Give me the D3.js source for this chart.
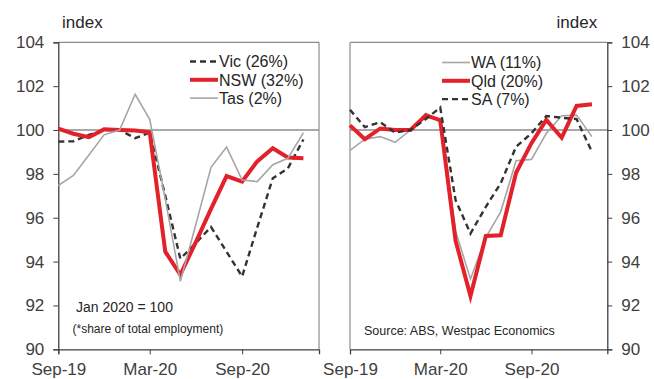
<!DOCTYPE html>
<html lang="en">
<head>
    <meta charset="UTF-8">
    <title>State employment index</title>
    <script src="https://d3js.org/d3.v7.min.js"></script>
    <style>
        body {
            margin: 0;
            background: #fff;
            font-family: "Liberation Sans", Arial, sans-serif;
        }
        .axis text {
            font-size: 17px;
            fill: #404040;
            font-family: "Liberation Sans", Arial, sans-serif;
        }
        .axis path, .axis line {
            stroke: #404040;
        }
    </style>
</head>
<body>
    <div id="chart"></div>
    <script>
        // Monthly observations, Sep-19 to Jan-21 (Jan 2020 = 100)
        const months = ["2019-09", "2019-10", "2019-11", "2019-12", "2020-01", "2020-02", "2020-03",
            "2020-04", "2020-05", "2020-06", "2020-07", "2020-08", "2020-09", "2020-10",
            "2020-11", "2020-12", "2021-01"];

        const vic = [99.47, 99.49, 99.78, 100.0, 100.0, 99.63, 99.88, 97.0, 94.13, 94.85, 95.58, 94.45, 93.32, 95.55, 97.8, 98.25, 99.57];
        const nsw = [100.06, 99.83, 99.67, 100.03, 100.0, 99.98, 99.9, 94.45, 93.4, 94.9, 96.4, 97.9, 97.65, 98.57, 99.17, 98.75, 98.71];
        const tas = [97.47, 97.93, 98.86, 99.78, 100.0, 101.63, 100.49, 96.85, 93.1, 95.7, 98.3, 99.22, 97.72, 97.65, 98.42, 98.71, 99.88];

        const wa = [99.07, 99.58, 99.7, 99.44, 100.0, 100.76, 100.35, 95.4, 93.2, 95.1, 96.27, 98.6, 98.66, 99.85, 100.65, 100.68, 99.7];
        const qld = [100.21, 99.58, 100.07, 100.0, 100.0, 100.67, 100.45, 94.95, 92.43, 95.17, 95.2, 98.05, 99.4, 100.46, 99.65, 101.1, 101.17];
        const sa = [100.92, 100.13, 100.36, 99.88, 100.0, 100.5, 101.03, 96.8, 95.28, 96.5, 97.57, 99.24, 99.85, 100.64, 100.56, 100.5, 99.01];

        const yTicks = [90, 92, 94, 96, 98, 100, 102, 104];
        const xTicks = ["2019-09", "2020-03", "2020-09"];

        const parseMonth = d3.timeParse("%Y-%m");
        const dates = months.map(parseMonth);

        const width = 654;
        const height = 379;

        const svg = d3.select("#chart")
            .append("svg")
            .attr("width", width)
            .attr("height", height);

        const styles = {
            dashed: { stroke: "#333333", width: 2.4, dash: "6,4" },
            red: { stroke: "#e3212b", width: 4, dash: null },
            grey: { stroke: "#a6a6a6", width: 1.6, dash: null }
        };

        function drawPanel(opts) {
            const x = d3.scaleTime()
                .domain([parseMonth("2019-09"), parseMonth("2021-02")])
                .range([opts.left, opts.right]);

            const y = d3.scaleLinear()
                .domain([90, 104])
                .range([349.3, 42.3]);

            const g = svg.append("g");

            // frame (the two non-axis sides)
            const frameX = opts.axisSide === "left" ? opts.right : opts.left;
            g.append("line")
                .attr("x1", opts.left).attr("x2", opts.right)
                .attr("y1", y(104)).attr("y2", y(104))
                .attr("stroke", "#8c8c8c").attr("stroke-width", 1.2);
            g.append("line")
                .attr("x1", frameX).attr("x2", frameX)
                .attr("y1", y(104)).attr("y2", y(90))
                .attr("stroke", "#8c8c8c").attr("stroke-width", 1.2);

            // reference line at 100
            g.append("line")
                .attr("x1", opts.left).attr("x2", opts.right)
                .attr("y1", y(100)).attr("y2", y(100))
                .attr("stroke", "#8c8c8c").attr("stroke-width", 1.5);

            // axes
            const yAxis = opts.axisSide === "left"
                ? d3.axisLeft(y).tickValues(yTicks).tickSize(5).tickPadding(9)
                : d3.axisRight(y).tickValues(yTicks).tickSize(5).tickPadding(9);

            g.append("g")
                .attr("class", "axis")
                .attr("transform", `translate(${opts.axisSide === "left" ? opts.left : opts.right},0)`)
                .call(yAxis.tickFormat(d3.format("d")))
                .call(a => a.select(".domain").attr("stroke-width", 1.3));

            g.append("g")
                .attr("class", "axis")
                .attr("transform", `translate(0,${y(90)})`)
                .call(d3.axisBottom(x)
                    .tickValues(xTicks.map(parseMonth))
                    .tickSizeOuter(0)
                    .tickSize(5)
                    .tickPadding(9)
                    .tickFormat(d3.timeFormat("%b-%y")))
                .call(a => a.select(".domain").attr("stroke-width", 1.3));

            // series lines
            const line = d3.line()
                .x((d, i) => x(dates[i]))
                .y(d => y(d));

            opts.series.forEach(s => {
                const st = styles[s.style];
                g.append("path")
                    .datum(s.values)
                    .attr("fill", "none")
                    .attr("stroke", st.stroke)
                    .attr("stroke-width", st.width)
                    .attr("stroke-dasharray", st.dash)
                    .attr("stroke-linejoin", "miter")
                    .attr("d", line);
            });

            // legend
            opts.legend.forEach((s, i) => {
                const st = styles[s.style];
                const ly = opts.legendY + i * 18.3;
                g.append("line")
                    .attr("x1", opts.legendX).attr("x2", opts.legendX + 28)
                    .attr("y1", ly).attr("y2", ly)
                    .attr("stroke", st.stroke)
                    .attr("stroke-width", st.width)
                    .attr("stroke-dasharray", st.dash);
                g.append("text")
                    .attr("x", opts.legendX + 29)
                    .attr("y", ly)
                    .attr("dy", "0.36em")
                    .attr("fill", "#262626")
                    .style("font-size", "16px")
                    .text(s.name);
            });

            // "index" label
            g.append("text")
                .attr("x", opts.indexX)
                .attr("y", 28)
                .attr("fill", "#262626")
                .style("font-size", "17px")
                .text("index");

            return g;
        }

        const left = drawPanel({
            left: 58.3, right: 319,
            axisSide: "left",
            series: [
                { name: "Vic (26%)", values: vic, style: "dashed" },
                { name: "NSW (32%)", values: nsw, style: "red" },
                { name: "Tas (2%)", values: tas, style: "grey" }
            ],
            legend: [
                { name: "Vic (26%)", style: "dashed" },
                { name: "NSW (32%)", style: "red" },
                { name: "Tas (2%)", style: "grey" }
            ],
            legendX: 190, legendY: 61.5,
            indexX: 62
        });

        left.append("text")
            .attr("x", 76).attr("y", 312)
            .attr("fill", "#262626")
            .style("font-size", "14px")
            .text("Jan 2020 = 100");

        left.append("text")
            .attr("x", 72.5).attr("y", 333)
            .attr("fill", "#262626")
            .style("font-size", "12px")
            .text("(*share of total employment)");

        const right = drawPanel({
            left: 350, right: 607.3,
            axisSide: "right",
            series: [
                { name: "WA (11%)", values: wa, style: "grey" },
                { name: "Qld (20%)", values: qld, style: "red" },
                { name: "SA (7%)", values: sa, style: "dashed" }
            ],
            legend: [
                { name: "WA (11%)", style: "grey" },
                { name: "Qld (20%)", style: "red" },
                { name: "SA (7%)", style: "dashed" }
            ],
            legendX: 442, legendY: 62.5,
            indexX: 556.5
        });

        right.append("text")
            .attr("x", 364).attr("y", 335)
            .attr("fill", "#262626")
            .style("font-size", "12.5px")
            .text("Source: ABS, Westpac Economics");
    </script>
</body>
</html>
